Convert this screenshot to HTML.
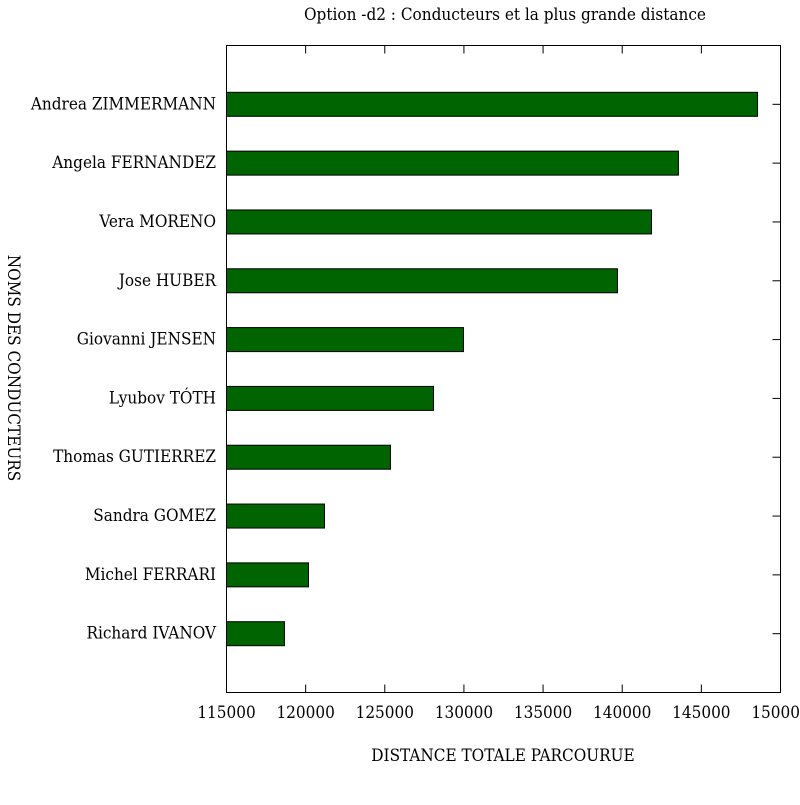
<!DOCTYPE html>
<html><head><meta charset="utf-8"><style>body{margin:0;background:#fff}svg text{font-family:"DejaVu Serif Condensed","Liberation Serif",serif;font-size:17px;fill:#000}</style></head>
<body>
<svg id="c" width="800" height="800" xmlns="http://www.w3.org/2000/svg"></svg>
<script>
const categories=["Andrea ZIMMERMANN","Angela FERNANDEZ","Vera MORENO","Jose HUBER","Giovanni JENSEN","Lyubov TÓTH","Thomas GUTIERREZ","Sandra GOMEZ","Michel FERRARI","Richard IVANOV"];
const values=[148550,143550,141850,139700,129970,128080,125360,121190,120180,118660];
const xTicks=[115000,120000,125000,130000,135000,140000,145000,150000];
const xTickLabels=["115000","120000","125000","130000","135000","140000","145000","150000"];
const L=226.5,R=780.5,T=45.5,B=692.5,xmin=115000,xmax=150000;
const svg=document.getElementById('c');const NS="http://www.w3.org/2000/svg";
function x(v){return L+(v-xmin)/(xmax-xmin)*(R-L);}
function y(i){return T+(B-T)/(categories.length+1)*(i+1);}
function mk(t,a,p){const e=document.createElementNS(NS,t);for(const k in a)e.setAttribute(k,a[k]);(p||svg).appendChild(e);return e;}
let e;
e=mk('text',{x:505,y:20,'text-anchor':'middle'});e.textContent="Option -d2 : Conducteurs et la plus grande distance";


categories.forEach((c,i)=>{
 const b=mk('rect',{x:x(xmin),y:y(i)-12,width:x(values[i])-x(xmin),height:24,fill:'#006400',stroke:'#000','stroke-width':1});
 
 
 const t=mk('text',{x:216,y:y(i)+5,'text-anchor':'end'});t.textContent=c;
 
 
 mk('line',{x1:R-8,x2:R,y1:y(i),y2:y(i),stroke:'#000'});
});
xTicks.forEach((v,i)=>{
 mk('line',{x1:x(v),x2:x(v),y1:B,y2:B-8,stroke:'#000'});
 mk('line',{x1:x(v),x2:x(v),y1:T,y2:T+8,stroke:'#000'});
 const t=mk('text',{x:x(v),y:718,'text-anchor':'middle'});t.textContent=xTickLabels[i];
 
 
});
e=mk('rect',{x:L,y:T,width:R-L,height:B-T,fill:'none',stroke:'#000'});


e=mk('text',{x:503,y:761,'text-anchor':'middle'});e.textContent="DISTANCE TOTALE PARCOURUE";


e=mk('text',{x:0,y:0,'text-anchor':'middle',transform:'translate(8,368) rotate(90)'});e.textContent="NOMS DES CONDUCTEURS";


</script>
</body></html>
